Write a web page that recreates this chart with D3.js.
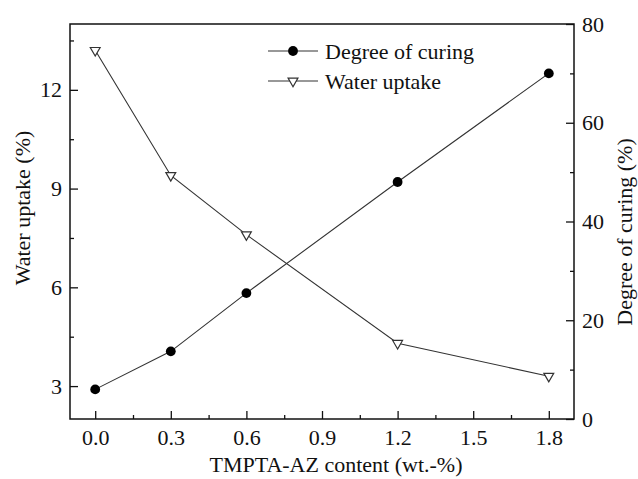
<!DOCTYPE html>
<html>
<head>
<meta charset="utf-8">
<script src="https://cdn.jsdelivr.net/npm/d3@7"></script>
<style>
  body { margin: 0; background: #fff; }
</style>
</head>
<body>
<svg width="638" height="479"></svg>
<script>
const content = [0.0, 0.3, 0.6, 1.2, 1.8]
const waterUptake = [13.2, 9.4, 7.6, 4.3, 3.3]
const curing = [6.0, 13.7, 25.5, 48.0, 70.0]
const xTicks = [0.0, 0.3, 0.6, 0.9, 1.2, 1.5, 1.8]
const leftTicks = [3, 6, 9, 12]
const rightTicks = [0, 20, 40, 60, 80]

const FONT = "Liberation Serif, DejaVu Serif, serif"
const FS = 22
const margin = { top: 24, right: 64, left: 70, bottom: 60 }
const svg = d3.select("svg")
const width = 638 - margin.left - margin.right
const height = 479 - margin.top - margin.bottom

const g = svg.append("g").attr("transform", `translate(${margin.left}, ${margin.top})`)

const x = d3.scaleLinear().domain([-0.1, 1.9]).range([0, width])
const yL = d3.scaleLinear().domain([2, 14]).range([height, 0])
const yR = d3.scaleLinear().domain([0, 80]).range([height, 0])

const styleAxis = (sel) => {
	sel.attr("font-family", FONT).attr("font-size", FS)
	sel.select(".domain").remove()
	sel.selectAll("line").attr("stroke", "#111").attr("stroke-width", 1.3)
	sel.selectAll("text").attr("fill", "#111")
}

// minor ticks
g.append("g").attr("transform", `translate(0, ${height})`)
	.call(d3.axisBottom(x).tickValues(d3.range(0.15, 1.9, 0.3)).tickSize(-4).tickFormat(""))
	.call(styleAxis)
g.append("g")
	.call(d3.axisLeft(yL).tickValues(d3.range(4.5, 14, 3)).tickSize(-4).tickFormat(""))
	.call(styleAxis)
g.append("g").attr("transform", `translate(${width}, 0)`)
	.call(d3.axisRight(yR).tickValues([10, 30, 50, 70]).tickSize(-4).tickFormat(""))
	.call(styleAxis)

// major ticks
g.append("g").attr("transform", `translate(0, ${height})`)
	.call(d3.axisBottom(x).tickValues(xTicks).tickSize(-8).tickPadding(10).tickFormat(d3.format(".1f")))
	.call(styleAxis)
g.append("g")
	.call(d3.axisLeft(yL).tickValues(leftTicks).tickSize(-8).tickPadding(8).tickFormat(d3.format("d")))
	.call(styleAxis)
g.append("g").attr("transform", `translate(${width}, 0)`)
	.call(d3.axisRight(yR).tickValues(rightTicks).tickSize(-8).tickPadding(8).tickFormat(d3.format("d")))
	.call(styleAxis)

g.append("rect")
	.attr("width", width).attr("height", height)
	.attr("fill", "none").attr("stroke", "#111").attr("stroke-width", 1.5)

// lines
const lineL = d3.line().x((d, i) => x(content[i])).y((d) => yL(d))
const lineR = d3.line().x((d, i) => x(content[i])).y((d) => yR(d))

g.append("path").datum(curing).attr("d", lineR)
	.attr("fill", "none").attr("stroke", "#333").attr("stroke-width", 1.1)
g.append("path").datum(waterUptake).attr("d", lineL)
	.attr("fill", "none").attr("stroke", "#333").attr("stroke-width", 1.1)

const tri = d3.symbol().type(d3.symbolTriangle).size(42)

g.selectAll(".dot").data(curing).enter().append("circle")
	.attr("cx", (d, i) => x(content[i])).attr("cy", (d) => yR(d))
	.attr("r", 4.9).attr("fill", "#000")

g.selectAll(".tri").data(waterUptake).enter().append("path")
	.attr("d", tri)
	.attr("transform", (d, i) => `translate(${x(content[i])}, ${yL(d)}) rotate(180)`)
	.attr("fill", "#fff").attr("stroke", "#333").attr("stroke-width", 1.2)

// legend
const legend = svg.append("g").attr("transform", "translate(268, 51)")
	.attr("font-family", FONT).attr("font-size", FS)
const items = [{ label: "Degree of curing", type: "dot" }, { label: "Water uptake", type: "tri" }]
items.forEach((item, i) => {
	const row = legend.append("g").attr("transform", `translate(0, ${i * 30})`)
	row.append("line").attr("x1", 0).attr("x2", 50)
		.attr("stroke", "#333").attr("stroke-width", 1.1)
	if (item.type === "dot") {
		row.append("circle").attr("cx", 25).attr("r", 4.9).attr("fill", "#000")
	} else {
		row.append("path").attr("d", tri).attr("transform", "translate(25, 0) rotate(180)")
			.attr("fill", "#fff").attr("stroke", "#333").attr("stroke-width", 1.2)
	}
	row.append("text").attr("x", 57).attr("dy", "0.35em").attr("fill", "#111")
		.text(item.label)
})

// axis titles
const titles = svg.append("g").attr("font-family", FONT).attr("font-size", FS).attr("fill", "#111")
titles.append("text")
	.attr("x", 336).attr("y", 472)
	.attr("text-anchor", "middle")
	.text("TMPTA-AZ content (wt.-%)")
titles.append("text")
	.attr("transform", "translate(30, 208) rotate(-90)")
	.attr("text-anchor", "middle")
	.text("Water uptake (%)")
titles.append("text")
	.attr("transform", "translate(632, 232) rotate(-90)")
	.attr("text-anchor", "middle")
	.text("Degree of curing (%)")
</script>
</body>
</html>
